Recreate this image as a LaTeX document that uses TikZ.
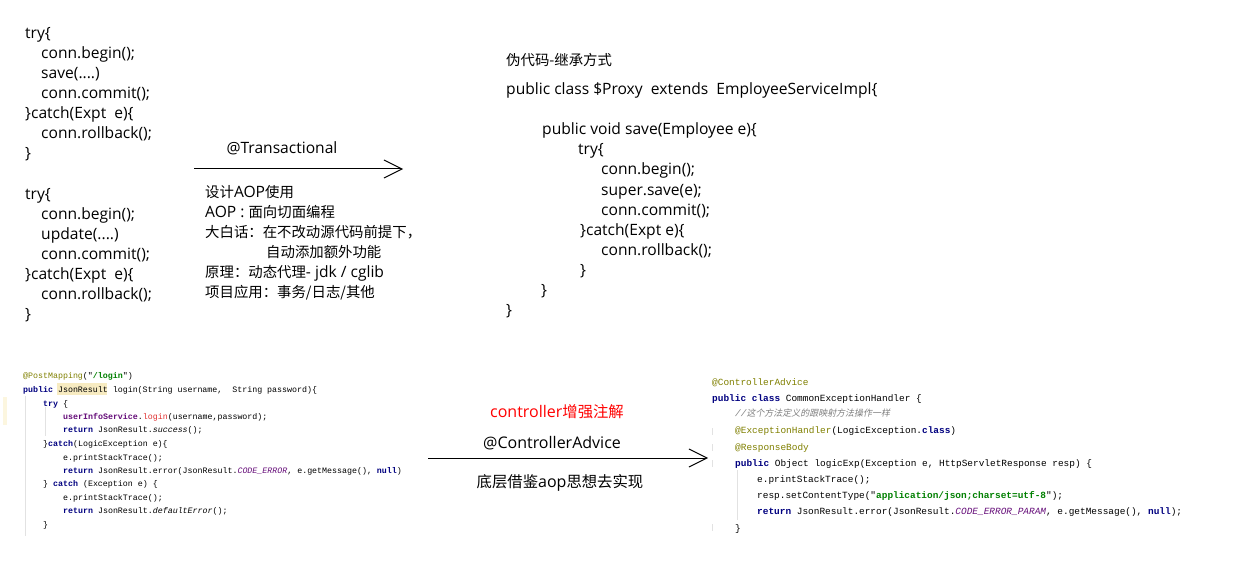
\documentclass[tikz,border=0pt]{standalone}
\usepackage{fontspec}
\setmainfont{Open Sans}
\newfontfamily\cjkfont[Scale=0.923]{Noto Sans CJK SC}
\newfontfamily\cjkbig[Scale=0.96]{Noto Sans CJK SC}
\newfontfamily\codefont{Liberation Mono}
\newfontfamily\cmtfont[FakeSlant=0.2,Scale=0.95]{Noto Sans CJK SC}
\usetikzlibrary{arrows.meta}

\definecolor{annot}{HTML}{808000}
\definecolor{kwblue}{HTML}{000080}
\definecolor{strgreen}{HTML}{008000}
\definecolor{fldpurple}{HTML}{660E7A}
\definecolor{mthred}{HTML}{E03030}
\definecolor{cmtgray}{HTML}{808080}
\definecolor{hilite}{HTML}{F7EBC1}
\definecolor{gutter}{HTML}{FCF6DF}
\definecolor{guidegray}{HTML}{E2E2E2}

\newcommand{\zh}[1]{{\cjkfont #1}}
\newcommand{\zhb}[1]{{\cjkbig #1}}
\newcommand{\kwd}[1]{{\bfseries\color{kwblue}#1}}
\newcommand{\ann}[1]{{\color{annot}#1}}
\newcommand{\strlit}[1]{{\bfseries\color{strgreen}#1}}
\newcommand{\fld}[1]{{\itshape\color{fldpurple}#1}}
\newcommand{\objref}[1]{{\bfseries\color{fldpurple}#1}}
\newcommand{\mcall}[1]{{\color{mthred}#1}}

\begin{document}
\begin{tikzpicture}[
  x=1pt,
  y=-1pt,
  plain/.style={anchor=base west, inner sep=0pt, font=\fontsize{15.6}{18}\selectfont},
  big/.style={anchor=base, inner sep=0pt, font=\fontsize{16}{19}\selectfont},
  codeL/.style={anchor=base west, inner sep=0pt, font=\codefont\fontsize{8.3}{10}\selectfont},
  codeR/.style={anchor=base west, inner sep=0pt, font=\codefont\fontsize{9.44}{11}\selectfont},
  barbarrow/.style={line width=1pt, -{Straight Barb[length=18pt, width=18pt]}},
  guideline/.style={draw=guidegray, line width=0.8pt}
]
\fill[white] (0,0) rectangle (1241,564);
\useasboundingbox (0,0) rectangle (1241,564);

% hand-written transaction code
\node[plain] (save1) at (25,39) {try\{};
\node[plain] (save2) at (41,59) {conn.begin();};
\node[plain] (save3) at (41,79) {save(....)};
\node[plain] (save4) at (41,99) {conn.commit();};
\node[plain] (save5) at (25,119) {\}catch(Expt\ \ e)\{};
\node[plain] (save6) at (41,139) {conn.rollback();};
\node[plain] (save7) at (25,159) {\}};

\node[plain] (upd1) at (25,199) {try\{};
\node[plain] (upd2) at (41,219) {conn.begin();};
\node[plain] (upd3) at (41,239) {update(....)};
\node[plain] (upd4) at (41,259) {conn.commit();};
\node[plain] (upd5) at (25,279) {\}catch(Expt\ \ e)\{};
\node[plain] (upd6) at (41,299) {conn.rollback();};
\node[plain] (upd7) at (25,319) {\}};

% @Transactional arrow and notes
\coordinate (txStart) at (194,169);
\coordinate (txEnd) at (403,169);
\draw[barbarrow] (txStart) -- (txEnd);
\node[plain, anchor=base] (txLabel) at (282,154) {@Transactional};

\node[plain] (aop1) at (205,197) {\zh{设计}AOP\zh{使用}};
\node[plain] (aop2) at (205,217) {AOP : \zh{面向切面编程}};
\node[plain] (aop3) at (205,237) {\zh{大白话：在不改动源代码前提下，}};
\node[plain] (aop4) at (266,257) {\zh{自动添加额外功能}};
\node[plain] (aop5) at (205,277) {\zh{原理：动态代理}- jdk / cglib};
\node[plain] (aop6) at (205,297) {\zh{项目应用：事务/日志/其他}};

% proxy pseudo code
\node[plain] (px0) at (506,66) {\zh{伪代码-继承方式}};
\node[plain] (px1) at (506,95) {public class \$Proxy\ \ extends\ \ EmployeeServiceImpl\{};
\node[plain] (px2) at (542,135) {public void save(Employee e)\{};
\node[plain] (px3) at (578,155) {try\{};
\node[plain] (px4) at (601,175) {conn.begin();};
\node[plain] (px5) at (601,195) {super.save(e);};
\node[plain] (px6) at (601,215) {conn.commit();};
\node[plain] (px7) at (580,235) {\}catch(Expt e)\{};
\node[plain] (px8) at (601,255) {conn.rollback();};
\node[plain] (px9) at (580,275) {\}};
\node[plain] (px10) at (541,295) {\}};
\node[plain] (px11) at (506,315) {\}};

% login controller screenshot
\fill[gutter] (3,397) rectangle (7,425);
\fill[hilite] (57,383) rectangle (107,395);
\draw[guideline] (25,396) -- (25,536);
\draw[guideline] (45,407) -- (45,436);
\node[codeL] (lg1) at (23,378) {\ann{@PostMapping}("\strlit{/login}")};
\node[codeL] (lg2) at (23,392) {\kwd{public} JsonResult login(String username,\ \ String password)\{};
\node[codeL] (lg3) at (43,406) {\kwd{try} \{};
\node[codeL] (lg4) at (63,419) {\objref{userInfoService}.\mcall{login}(username,password);};
\node[codeL] (lg5) at (63,432) {\kwd{return} JsonResult.{\itshape success}();};
\node[codeL] (lg6) at (43,446) {\}\kwd{catch}(LogicException e)\{};
\node[codeL] (lg7) at (63,460) {e.printStackTrace();};
\node[codeL] (lg8) at (63,473) {\kwd{return} JsonResult.error(JsonResult.\fld{CODE\_ERROR}, e.getMessage(), \kwd{null})};
\node[codeL] (lg9) at (43,486) {\} \kwd{catch} (Exception e) \{};
\node[codeL] (lg10) at (63,500) {e.printStackTrace();};
\node[codeL] (lg11) at (63,513) {\kwd{return} JsonResult.{\itshape defaultError}();};
\node[codeL] (lg12) at (43,527) {\}};

% @ControllerAdvice arrow
\coordinate (adStart) at (428,458);
\coordinate (adEnd) at (708,458);
\draw[barbarrow] (adStart) -- (adEnd);
\node[big, red] (adTitle) at (557,417) {controller\zhb{增强注解}};
\node[big] (adLabel) at (552,448) {@ControllerAdvice};
\node[big] (adNote) at (560,487) {\zhb{底层借鉴}aop\zhb{思想去实现}};

% exception handler screenshot
\draw[guideline] (737,470) -- (737,520);
\foreach \ty in {428,444,460,524}
  \draw[guideline] (712,\ty) -- (712,\ty+7);
\node[codeR] (eh1) at (712,385) {\ann{@ControllerAdvice}};
\node[codeR] (eh2) at (712,401) {\kwd{public class} CommonExceptionHandler \{};
\node[codeR] (eh3) at (735,416.5) {\color{cmtgray}\itshape //{\cmtfont 这个方法定义的跟映射方法操作一样}};
\node[codeR] (eh4) at (735,433.5) {\ann{@ExceptionHandler}(LogicException.\kwd{class})};
\node[codeR] (eh5) at (735,450) {\ann{@ResponseBody}};
\node[codeR] (eh6) at (735,466.5) {\kwd{public} Object logicExp(Exception e, HttpServletResponse resp) \{};
\node[codeR] (eh7) at (757,482.5) {e.printStackTrace();};
\node[codeR] (eh8) at (757,498.5) {resp.setContentType("\strlit{application/json;charset=utf-8}");};
\node[codeR] (eh9) at (757,514.5) {\kwd{return} JsonResult.error(JsonResult.\fld{CODE\_ERROR\_PARAM}, e.getMessage(), \kwd{null});};
\node[codeR] (eh10) at (735,531.5) {\}};
\end{tikzpicture}
\end{document}
